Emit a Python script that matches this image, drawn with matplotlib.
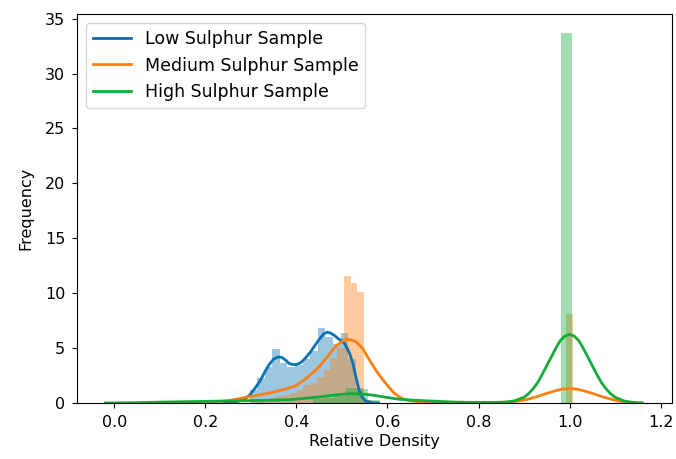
import matplotlib
matplotlib.use("Agg")
import matplotlib.pyplot as plt
import numpy as np

# ---------------- data ----------------
labels = ["Low Sulphur Sample", "Medium Sulphur Sample", "High Sulphur Sample"]
colors = ["#0a72b4", "#ff7f0e", "#13ab3a"]

# histogram bin edges and density heights (one height per bin)
low_edges = [0.297, 0.3137, 0.3303, 0.347, 0.3637, 0.3803, 0.397, 0.4137,
             0.4303, 0.447, 0.4637, 0.4803, 0.497, 0.5137, 0.5303, 0.547, 0.5637]
low_height = [1.2, 2.3, 3.3, 4.9, 3.6, 3.3, 3.5, 4.0,
              4.7, 6.85, 6.0, 5.4, 6.4, 4.0, 1.4, 0.3]

med_edges = [0.297, 0.3118, 0.3266, 0.3414, 0.3562, 0.371, 0.3858, 0.4006,
             0.4154, 0.4302, 0.445, 0.4598, 0.4746, 0.4894, 0.5042, 0.519,
             0.5338, 0.5486, 0.5634]
med_height = [0.2, 0.3, 0.4, 0.5, 0.6, 0.7, 0.9, 1.2,
              1.6, 1.8, 2.4, 3.0, 4.1, 5.0, 11.6, 10.9,
              10.1, 0.3]
med_far_edges = [0.9924, 1.0072]
med_far_height = [8.1]

high_edges = [0.4355, 0.46, 0.4845, 0.509, 0.5335, 0.558, 0.5825]
high_height = [0.4, 0.5, 0.6, 1.35, 1.3, 0.3]
high_far_edges = [0.9805, 1.005]
high_far_height = [33.7]

# density curves
low_kde_x = [0.24, 0.26, 0.275, 0.287, 0.297, 0.308, 0.32, 0.33, 0.34, 0.35,
             0.36, 0.368, 0.376, 0.384, 0.392, 0.40, 0.41, 0.42, 0.43, 0.44,
             0.45, 0.46, 0.468, 0.476, 0.485, 0.492, 0.498, 0.505, 0.51,
             0.517, 0.524, 0.531, 0.538, 0.545, 0.553, 0.565, 0.58]
low_kde_y = [0.0, 0.05, 0.2, 0.4, 0.7, 1.3, 2.0, 2.8, 3.5, 4.0,
             4.2, 4.15, 3.9, 3.6, 3.5, 3.5, 3.7, 4.1, 4.6, 5.2,
             5.8, 6.3, 6.45, 6.35, 6.1, 5.85, 5.7, 5.45, 5.1,
             4.5, 3.6, 2.3, 1.1, 0.5, 0.15, 0.03, 0.0]

med_kde_x = [0.14, 0.2, 0.25, 0.3, 0.34, 0.37, 0.4, 0.42, 0.443, 0.46,
             0.47, 0.48, 0.49, 0.5, 0.507, 0.513, 0.52, 0.53, 0.545, 0.56,
             0.575, 0.59, 0.605, 0.615, 0.626, 0.638, 0.65, 0.67, 0.7,
             0.75, 0.8, 0.84, 0.87, 0.89, 0.91, 0.93, 0.95, 0.97, 0.985,
             1.0, 1.015, 1.03, 1.05, 1.07, 1.09, 1.11, 1.13]
med_kde_y = [0.0, 0.05, 0.2, 0.6, 0.9, 1.2, 1.6, 2.2, 3.0, 3.8,
             4.3, 4.85, 5.3, 5.6, 5.75, 5.8, 5.75, 5.6, 5.0, 3.95,
             2.95, 2.1, 1.35, 0.9, 0.55, 0.32, 0.2, 0.1, 0.05,
             0.02, 0.02, 0.04, 0.1, 0.2, 0.36, 0.6, 0.88, 1.13, 1.27,
             1.32, 1.27, 1.13, 0.88, 0.6, 0.36, 0.17, 0.05]

high_kde_x = [-0.02, 0.05, 0.1, 0.2, 0.3, 0.385, 0.45, 0.5, 0.52, 0.55,
              0.57, 0.6, 0.626, 0.66, 0.685, 0.75, 0.8, 0.84, 0.86, 0.88,
              0.9, 0.91, 0.92, 0.93, 0.94, 0.95, 0.96, 0.97, 0.98, 0.99,
              1.0, 1.01, 1.02, 1.03, 1.04, 1.05, 1.06, 1.07, 1.08, 1.09,
              1.1, 1.12, 1.14, 1.16]
high_kde_y = [0.0, 0.03, 0.08, 0.15, 0.22, 0.3, 0.55, 0.8, 0.85, 0.8,
              0.7, 0.5, 0.34, 0.25, 0.2, 0.08, 0.05, 0.06, 0.08, 0.2,
              0.53, 0.85, 1.3, 1.86, 2.6, 3.4, 4.2, 5.0, 5.7, 6.1,
              6.25, 6.1, 5.7, 5.0, 4.2, 3.4, 2.6, 1.86, 1.3, 0.85,
              0.53, 0.18, 0.05, 0.01]

x_label = "Relative Density"
y_label = "Frequency"

# ---------------- figure ----------------
fig = plt.figure(figsize=(6.76, 4.59), dpi=100)
ax = fig.add_axes([0.114, 0.122, 0.880, 0.847])


def draw_hist(edges, heights, color):
    e = np.asarray(edges)
    ax.bar(e[:-1], heights, width=np.diff(e), align="edge", color=color,
           alpha=0.4, linewidth=0)


draw_hist(low_edges, low_height, colors[0])
ax.plot(low_kde_x, low_kde_y, color=colors[0], lw=2, label=labels[0])
draw_hist(med_edges, med_height, colors[1])
draw_hist(med_far_edges, med_far_height, colors[1])
ax.plot(med_kde_x, med_kde_y, color=colors[1], lw=2, label=labels[1])
draw_hist(high_edges, high_height, colors[2])
draw_hist(high_far_edges, high_far_height, colors[2])
ax.plot(high_kde_x, high_kde_y, color=colors[2], lw=2, label=labels[2])

ax.set_xlim(-0.082, 1.225)
ax.set_ylim(0, 35.4)
ax.set_xticks([0.0, 0.2, 0.4, 0.6, 0.8, 1.0, 1.2])
ax.set_yticks([0, 5, 10, 15, 20, 25, 30, 35])
ax.tick_params(labelsize=11.5, pad=5)
ax.set_xlabel(x_label, fontsize=11.5, labelpad=3)
ax.set_ylabel(y_label, fontsize=11.5, labelpad=8)
ax.legend(loc="upper left", fontsize=12.5, handlelength=2.2)

fig.savefig("out.png", dpi=100)
